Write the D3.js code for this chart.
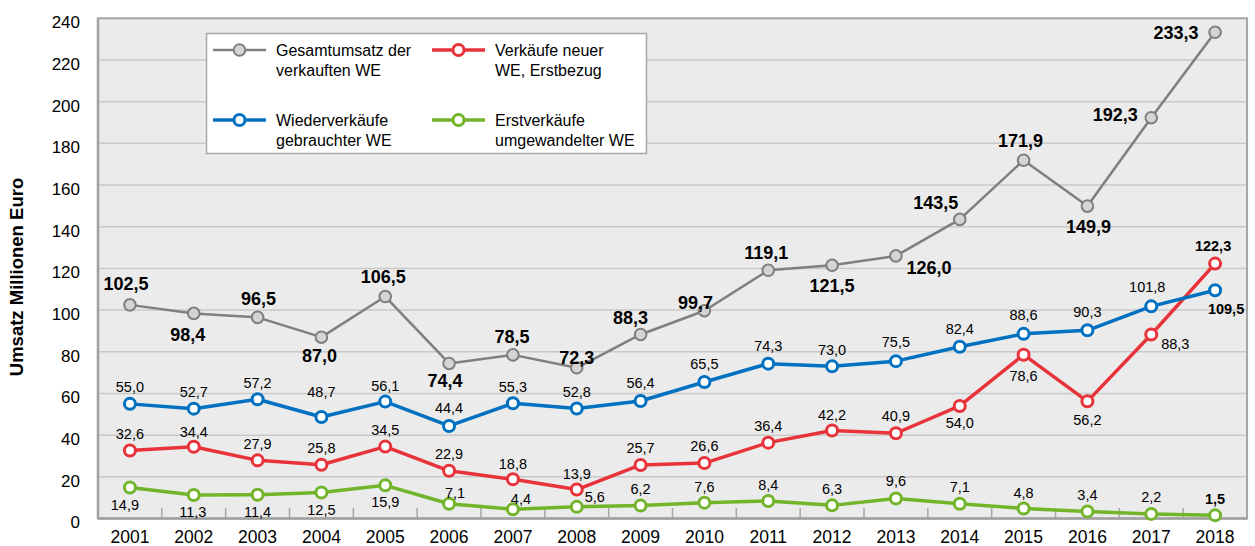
<!DOCTYPE html>
<html>
<head>
<meta charset="utf-8">
<script src="https://cdn.jsdelivr.net/npm/d3@7"></script>
<style>
  html, body { margin: 0; padding: 0; background: #ffffff; }
  svg { display: block; }
  text { font-family: "Liberation Sans", Arial, sans-serif; fill: #000; }
</style>
</head>
<body>
<svg id="chart" width="1255" height="546"></svg>
<script>
// ---------- data ----------
const years = ["2001","2002","2003","2004","2005","2006","2007","2008","2009","2010","2011","2012","2013","2014","2015","2016","2017","2018"];
const gesamt = [102.5, 98.4, 96.5, 87.0, 106.5, 74.4, 78.5, 72.3, 88.3, 99.7, 119.1, 121.5, 126.0, 143.5, 171.9, 149.9, 192.3, 233.3];
const wieder = [55.0, 52.7, 57.2, 48.7, 56.1, 44.4, 55.3, 52.8, 56.4, 65.5, 74.3, 73.0, 75.5, 82.4, 88.6, 90.3, 101.8, 109.5];
const neu = [32.6, 34.4, 27.9, 25.8, 34.5, 22.9, 18.8, 13.9, 25.7, 26.6, 36.4, 42.2, 40.9, 54.0, 78.6, 56.2, 88.3, 122.3];
const umgew = [14.9, 11.3, 11.4, 12.5, 15.9, 7.1, 4.4, 5.6, 6.2, 7.6, 8.4, 6.3, 9.6, 7.1, 4.8, 3.4, 2.2, 1.5];
const yTicks = [0, 20, 40, 60, 80, 100, 120, 140, 160, 180, 200, 220, 240];
const seriesNames = [
  ["Gesamtumsatz der", "verkauften WE"],
  ["Verkäufe neuer", "WE, Erstbezug"],
  ["Wiederverkäufe", "gebrauchter WE"],
  ["Erstverkäufe", "umgewandelter WE"]
];
const yTitle = "Umsatz Millionen Euro";

// ---------- label placement (layout only, pixel offsets of label centre from point) ----------
const gesamtOffsets = [[-4,-21],[-6,21],[1,-19],[-2,18],[-2,-20],[-4,17],[-1,-18],[0,-10],[-10,-17],[-9,-8],[-2,-18],[0,20],[33,12],[-24,-17],[-3,-20],[1,20],[-36,-3],[-39,0]];
const wiederOffsets = [[0,-17],[0,-17],[0,-17],[0,-25],[0,-16],[0,-18],[0,-16],[0,-17],[0,-18],[0,-18],[0,-18],[0,-17],[0,-19],[0,-18],[0,-19],[0,-19],[-4,-20],[11,18]];
const neuOffsets = [[0,-17],[0,-15],[0,-17],[0,-17],[0,-17],[0,-17],[0,-16],[0,-16],[0,-17],[0,-17],[0,-17],[0,-16],[0,-17],[0,17],[0,21],[0,18],[24,9],[-2,-18]];
const umgewOffsets = [[-5,17],[-1,17],[0,17],[0,17],[0,16],[6,-11],[8,-11],[18,-10],[0,-17],[0,-16],[0,-16],[0,-17],[0,-18],[0,-17],[0,-16],[0,-17],[0,-17],[0,-17]];

// ---------- layout ----------
const svg = d3.select("#chart");
const plotLeft = 98, plotRight = 1247, plotTop = 18.3, plotBottom = 518.5;

const x = d3.scaleBand().domain(years).range([plotLeft, plotRight]).padding(0);
const y = d3.scaleLinear().domain([0, 240]).range([plotBottom, plotTop]);
const cx = d => x(d) + x.bandwidth() / 2;
const fmt = v => d3.format(".1f")(v).replace(".", ",");

// plot background
svg.append("rect")
  .attr("x", plotLeft).attr("y", plotTop)
  .attr("width", plotRight - plotLeft).attr("height", plotBottom - plotTop)
  .attr("fill", "#ebebeb");

// gridlines
svg.append("g").selectAll("line")
  .data(yTicks.filter(t => t > 0 && t < 240))
  .join("line")
  .attr("x1", plotLeft).attr("x2", plotRight)
  .attr("y1", d => y(d)).attr("y2", d => y(d))
  .attr("stroke", "#c9c9c9").attr("stroke-width", 1.5);

// x category separator ticks (inside, upward)
svg.append("g").selectAll("line")
  .data(years.slice(1))
  .join("line")
  .attr("x1", d => x(d)).attr("x2", d => x(d))
  .attr("y1", plotBottom - 10.5).attr("y2", plotBottom)
  .attr("stroke", "#a6a6a6").attr("stroke-width", 1.5);

// plot border
svg.append("rect")
  .attr("x", plotLeft).attr("y", plotTop)
  .attr("width", plotRight - plotLeft).attr("height", plotBottom - plotTop)
  .attr("fill", "none")
  .attr("stroke", "#a6a6a6").attr("stroke-width", 2);
svg.append("line")
  .attr("x1", plotLeft).attr("x2", plotRight).attr("y1", plotBottom).attr("y2", plotBottom)
  .attr("stroke", "#a0a0a0").attr("stroke-width", 2.5);
svg.append("line")
  .attr("x1", plotLeft).attr("x2", plotLeft).attr("y1", plotTop).attr("y2", plotBottom)
  .attr("stroke", "#a0a0a0").attr("stroke-width", 2.5);

// y axis labels via d3 axis
const yAxis = svg.append("g")
  .attr("transform", `translate(${plotLeft},0)`)
  .call(d3.axisLeft(y).tickValues(yTicks).tickSize(0).tickPadding(18).tickFormat(d3.format("d")));
yAxis.select(".domain").remove();
yAxis.selectAll("text")
  .attr("font-family", "'Liberation Sans', Arial, sans-serif")
  .attr("font-size", 17).attr("fill", "#000").attr("dy", "0.55em");

// x axis labels
const xAxis = svg.append("g")
  .attr("transform", `translate(0,${plotBottom})`)
  .call(d3.axisBottom(x).tickSize(0).tickPadding(12));
xAxis.select(".domain").remove();
xAxis.selectAll("text")
  .attr("font-family", "'Liberation Sans', Arial, sans-serif")
  .attr("font-size", 17.5).attr("fill", "#000");

// y title
svg.append("text")
  .attr("transform", "translate(23,277) rotate(-90)")
  .attr("text-anchor", "middle")
  .attr("font-family", "'Open Sans', sans-serif")
  .attr("font-weight", "bold")
  .attr("font-size", 18.5)
  .text(yTitle);

// ---------- series ----------
const series = [
  { vals: gesamt, off: gesamtOffsets, color: "#7f7f7f", lw: 2.5, fill: "#d4d4d4", cw: 2, r: 5.8, big: true },
  { vals: wieder, off: wiederOffsets, color: "#0070c0", lw: 3.5, fill: "#ffffff", cw: 3, r: 5.5, big: false },
  { vals: neu, off: neuOffsets, color: "#e8333b", lw: 3.5, fill: "#ffffff", cw: 3, r: 5.5, big: false },
  { vals: umgew, off: umgewOffsets, color: "#72b52b", lw: 3.5, fill: "#ffffff", cw: 3, r: 5.5, big: false }
];
const drawOrder = [3, 2, 1, 0];

const line = d3.line().x((d, i) => cx(years[i])).y(d => y(d));

drawOrder.forEach(k => {
  const s = series[k];
  const g = svg.append("g");
  g.append("path")
    .attr("d", line(s.vals))
    .attr("fill", "none").attr("stroke", s.color)
    .attr("stroke-width", s.lw).attr("stroke-linejoin", "round");
  g.selectAll("circle").data(s.vals).join("circle")
    .attr("cx", (d, i) => cx(years[i])).attr("cy", d => y(d))
    .attr("r", s.r).attr("fill", s.fill)
    .attr("stroke", s.color).attr("stroke-width", s.cw);
});

drawOrder.forEach(k => {
  const s = series[k];
  svg.append("g").selectAll("text").data(s.vals).join("text")
    .attr("x", (d, i) => cx(years[i]) + s.off[i][0])
    .attr("y", (d, i) => y(d) + s.off[i][1])
    .attr("dy", "0.36em")
    .attr("text-anchor", "middle")
    .attr("font-size", s.big ? 18 : 14.5)
    .attr("font-weight", (d, i) => (s.big || i === years.length - 1) ? "bold" : "normal")
    .attr("fill", "#000")
    .text(d => fmt(d));
});

// ---------- legend ----------
const lg = svg.append("g");
lg.append("rect")
  .attr("x", 206.5).attr("y", 33.5).attr("width", 440).attr("height", 120)
  .attr("fill", "#ffffff").attr("stroke", "#a6a6a6").attr("stroke-width", 1.5);
const legendItems = [
  { s: series[0], name: seriesNames[0], sx: 213, row: 50 },
  { s: series[2], name: seriesNames[1], sx: 432, row: 50 },
  { s: series[1], name: seriesNames[2], sx: 213, row: 120 },
  { s: series[3], name: seriesNames[3], sx: 432, row: 120 }
];
legendItems.forEach(it => {
  lg.append("line")
    .attr("x1", it.sx).attr("x2", it.sx + 53)
    .attr("y1", it.row).attr("y2", it.row)
    .attr("stroke", it.s.color).attr("stroke-width", it.s.lw);
  lg.append("circle")
    .attr("cx", it.sx + 26.5).attr("cy", it.row).attr("r", it.s.r)
    .attr("fill", it.s.fill).attr("stroke", it.s.color).attr("stroke-width", it.s.cw);
  const t = lg.append("text").attr("font-size", 16);
  it.name.forEach((ln, j) => {
    t.append("tspan").attr("x", it.sx + 63).attr("y", it.row + 6 + j * 20).text(ln);
  });
});
</script>
</body>
</html>
